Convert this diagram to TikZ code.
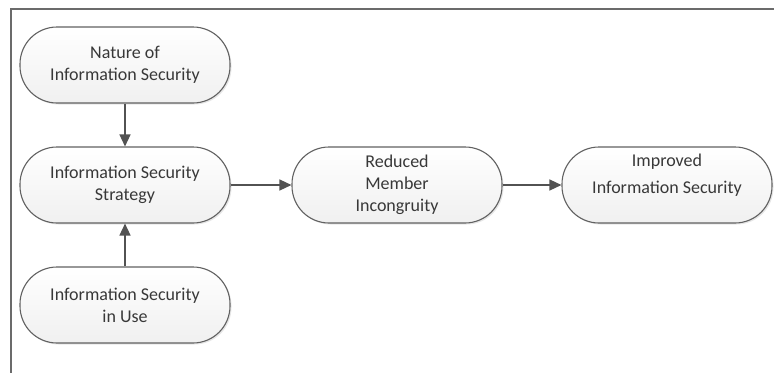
\documentclass[tikz,border=0pt]{standalone}
\usepackage{fontspec}
\setmainfont{Carlito}
\usetikzlibrary{arrows.meta,shadows}
\begin{document}
\begin{tikzpicture}[
			x=1pt, y=-1pt,
			stage/.style={draw=black!62, line width=1.1pt, rounded corners=37pt,
					minimum width=210pt, minimum height=76pt, align=center,
					top color=white, bottom color=black!6, text=black!78,
					font=\fontsize{18}{22}\selectfont,
					drop shadow={shadow xshift=1.5pt, shadow yshift=-1.5pt, opacity=0.2}},
			link/.style={draw=black!68, line width=1.4pt,
					-{Triangle[length=12pt,width=11pt]}}
		]
		\useasboundingbox (0,0) rectangle (774,373);
		% frame
		\draw[black!58, line width=2pt] (774,9) -- (11,9) -- (11,373);
		% stages
		\node[stage] (nature) at (125,65) {Nature of\\Information Security};
		\node[stage] (strategy) at (125,185) {Information Security\\Strategy};
		\node[stage] (inuse) at (125,305) {Information Security\\in Use};
		\node[stage] (reduced) at (397,185) {Reduced\\Member\\Incongruity};
		\node[stage] (improved) at (667,185) {Improved\\[5pt]Information Security\\\mbox{}};
		% links
		\draw[link] (nature) -- (strategy);
		\draw[link] (inuse) -- (strategy);
		\draw[link] (strategy) -- (reduced);
		\draw[link] (reduced) -- (improved);
	\end{tikzpicture}
\end{document}
